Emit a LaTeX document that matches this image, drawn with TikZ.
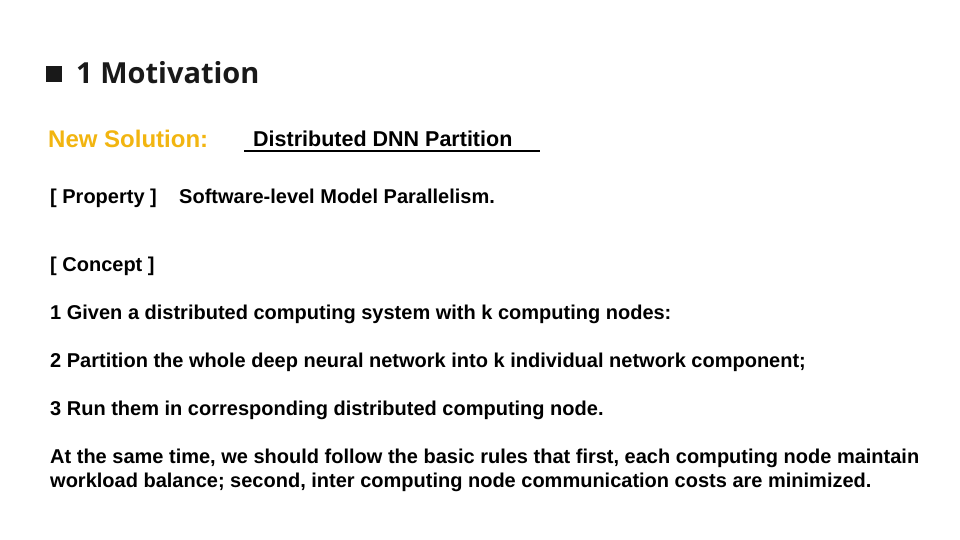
\documentclass[tikz,border=0pt]{standalone}
\usepackage{fontspec}
\setmainfont{Liberation Sans}
\newfontfamily\titlefont{Open Sans}
\definecolor{gold}{HTML}{F2B510}
\begin{document}
\begin{tikzpicture}[x=1pt,y=-1pt,
  txt/.style={anchor=base west,inner sep=0pt,font=\fontsize{20}{24}\selectfont\bfseries}]
\useasboundingbox[fill=white] (0,0) rectangle (960,540);
\fill[black!90] (46,66) rectangle (62,82) coordinate (sq);
\node[anchor=base west,inner sep=0pt,font=\titlefont\fontsize{29}{34}\selectfont\bfseries,text=black!90] (title) at (76,84) {1 Motivation};
\node[anchor=base west,inner sep=0pt,font=\fontsize{24}{28}\selectfont\bfseries,text=gold] (ns) at (48,148) {New Solution:};
\node[anchor=base west,inner sep=0pt,font=\fontsize{21.5}{25}\selectfont\bfseries] (dnn) at (253,147) {Distributed DNN Partition};
\draw[line width=1.5pt] (244,151) -- (540,151);
\node[txt] (p1) at (50,203) {[ Property ]};
\node[txt] (p2) at (179,203) {Software-level Model Parallelism.};
\node[txt] (c) at (50,271) {[ Concept ]};
\node[txt] (l1) at (50,319) {1 Given a distributed computing system with k computing nodes:};
\node[txt] (l2) at (50,367) {2 Partition the whole deep neural network into k individual network component;};
\node[txt] (l3) at (50,415) {3 Run them in corresponding distributed computing node.};
\node[txt] (l4) at (50,463) {At the same time, we should follow the basic rules that first, each computing node maintain};
\node[txt] (l5) at (50,487) {workload balance; second, inter computing node communication costs are minimized.};
\end{tikzpicture}
\end{document}
